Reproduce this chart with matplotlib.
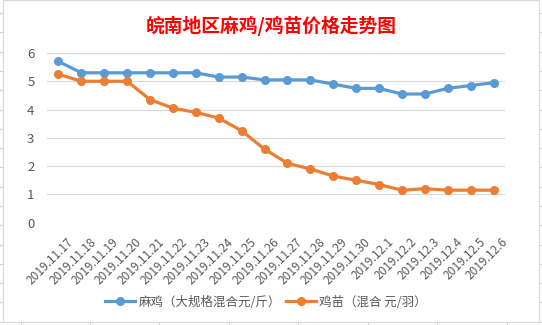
import numpy as np
import matplotlib.pyplot as plt
import matplotlib.transforms as mtrans
from matplotlib.lines import Line2D
from matplotlib.patches import Rectangle

plt.rcParams['font.family'] = ['Noto Sans CJK SC', 'DejaVu Sans']

dates = ['2019.11.17', '2019.11.18', '2019.11.19', '2019.11.20', '2019.11.21',
         '2019.11.22', '2019.11.23', '2019.11.24', '2019.11.25', '2019.11.26',
         '2019.11.27', '2019.11.28', '2019.11.29', '2019.11.30', '2019.12.1',
         '2019.12.2', '2019.12.3', '2019.12.4', '2019.12.5', '2019.12.6']
maji = [5.7, 5.3, 5.3, 5.3, 5.3, 5.3, 5.3, 5.15, 5.15, 5.05,
        5.05, 5.05, 4.9, 4.75, 4.75, 4.55, 4.55, 4.75, 4.85, 4.95]
jimiao = [5.25, 5.0, 5.0, 5.0, 4.35, 4.05, 3.9, 3.7, 3.25, 2.6,
          2.1, 1.9, 1.65, 1.5, 1.35, 1.15, 1.2, 1.15, 1.15, 1.15]
name1 = '麻鸡（大规格混合元/斤）'
name2 = '鸡苗（混合 元/羽）'
title = '皖南地区麻鸡/鸡苗价格走势图'

W, H = 542, 325
fig = plt.figure(figsize=(5.42, 3.25), dpi=100)

# excel cell lines behind the chart
cell = '#D4D4D4'
for xv in [21, 90, 159, 229, 298, 368, 437, 507]:
    fig.add_artist(Line2D([xv / W, xv / W], [0, 1], color=cell, lw=0.8, zorder=0))
for yv in np.arange(13, 325, 19.3):
    fig.add_artist(Line2D([0, 1], [1 - yv / H, 1 - yv / H], color=cell, lw=0.8, zorder=0))
fig.add_artist(Rectangle((2.5 / W, 1 - 322 / H), 536.5 / W, 322 / H,
                         facecolor='white', edgecolor='#D9D9D9', lw=0.8, zorder=1))

ax = fig.add_axes([47 / W, (H - 222.7) / H, 458 / W, 169.7 / H])
ax.set_zorder(2)
ax.patch.set_alpha(0)
x = np.arange(len(dates))
ax.plot(x, maji, color='#5B9BD5', lw=2.3, marker='o', ms=5.5, label=name1)
ax.plot(x, jimiao, color='#ED7D31', lw=2.3, marker='o', ms=5.5, label=name2)

ax.set_xlim(-0.5, len(dates) - 0.5)
ax.set_ylim(0, 6)
ax.set_yticks(range(7))
ax.grid(axis='y', color='#D9D9D9', lw=0.8)
ax.set_axisbelow(True)
for s in ax.spines.values():
    s.set_visible(False)
ax.tick_params(length=0, colors='#595959')
ax.tick_params(axis='y', pad=9, labelsize=9.5)
ax.tick_params(axis='x', pad=9, labelsize=8.6)
ax.set_xticks(x)
ax.set_xticklabels(dates, rotation=45, ha='right', rotation_mode='anchor')
shift = mtrans.ScaledTranslation(8 / 100, 0, fig.dpi_scale_trans)
for lab in ax.get_xticklabels():
    lab.set_transform(lab.get_transform() + shift)

fig.text(0.5, 1 - 26 / H, title, ha='center', va='center', color='red',
         fontsize=13.5, fontweight='bold')
fig.legend(loc='center', bbox_to_anchor=(266 / W, 1 - 302 / H), ncol=2, frameon=False,
           fontsize=9, handlelength=2.4, handletextpad=0.25, columnspacing=0.4,
           labelcolor='#595959')

fig.savefig('out.png', dpi=100)
